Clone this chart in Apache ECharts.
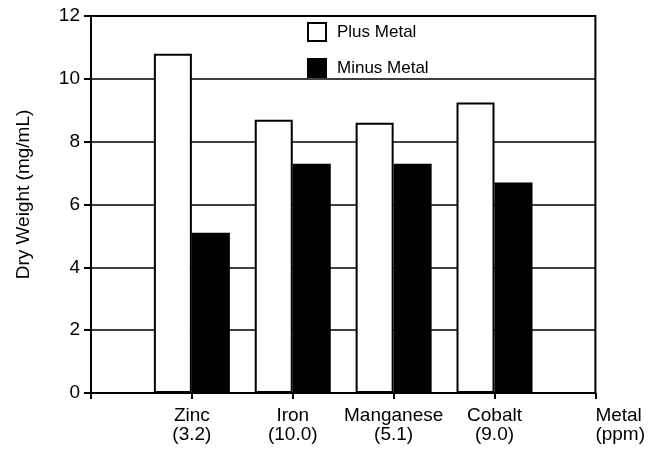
<!DOCTYPE html>
<html>
<head>
<meta charset="utf-8">
<script src="https://cdn.jsdelivr.net/npm/echarts@6/dist/echarts.min.js"></script>
<style>
  html, body { margin: 0; padding: 0; background: #fff; }
  #chart { width: 648px; height: 454px; }
</style>
</head>
<body>
<div id="chart"></div>
<script>
// Metal categories (with concentration in ppm); blank slots pad the axis ends
const categories = ['', 'Zinc\n(3.2)', 'Iron\n(10.0)', 'Manganese\n(5.1)', 'Cobalt\n(9.0)', ''];
// Dry weight (mg/mL)
const plusMetal  = [null, 10.8, 8.7, 8.6, 9.25, null];
const minusMetal = [null, 5.1, 7.3, 7.3, 6.7, null];
const yTicks = { min: 0, max: 12, interval: 2 };

const font = 'Liberation Sans, Arial, Helvetica, sans-serif';
const chart = echarts.init(document.getElementById('chart'), null, { renderer: 'canvas' });

chart.setOption({
  backgroundColor: '#fff',
  animation: false,
  textStyle: { fontFamily: font, color: '#000' },
  grid: {
    left: 91, right: 51, top: 16, bottom: 61,
    show: true, borderColor: '#000', borderWidth: 2, backgroundColor: 'transparent'
  },
  legend: {
    orient: 'vertical',
    left: 302, top: 17,
    itemWidth: 18, itemHeight: 18, itemGap: 16,
    icon: 'rect',
    textStyle: { fontFamily: font, fontSize: 17, color: '#000', padding: [0, 0, 0, 6] },
    data: ['Plus Metal', 'Minus Metal']
  },
  xAxis: {
    type: 'category',
    data: categories,
    boundaryGap: false,
    name: 'Metal\n(ppm)',
    nameLocation: 'end',
    nameGap: 0,
    nameTextStyle: {
      fontFamily: font, fontSize: 19, color: '#000', lineHeight: 19,
      align: 'left', verticalAlign: 'top', padding: [13, 0, 0, 0]
    },
    axisLine: { lineStyle: { color: '#000', width: 2 } },
    axisTick: { show: true, length: 6, lineStyle: { color: '#000', width: 2 } },
    axisLabel: {
      interval: 0, margin: 13, fontFamily: font, fontSize: 19, lineHeight: 19, color: '#000'
    },
    splitLine: { show: false }
  },
  yAxis: {
    type: 'value',
    min: yTicks.min, max: yTicks.max, interval: yTicks.interval,
    name: 'Dry Weight (mg/mL)',
    nameLocation: 'middle',
    nameGap: 58,
    nameTextStyle: { fontFamily: font, fontSize: 19, color: '#000', padding: [0, 0, 0, 20] },
    axisLine: { show: true, lineStyle: { color: '#000', width: 2 } },
    axisTick: { show: true, length: 7, lineStyle: { color: '#000', width: 2 } },
    axisLabel: { margin: 11, fontFamily: font, fontSize: 19, color: '#000' },
    splitLine: { show: true, lineStyle: { color: '#000', width: 1.5 } }
  },
  series: [
    {
      name: 'Plus Metal',
      type: 'bar',
      data: plusMetal,
      barWidth: 38,
      barGap: '0%',
      itemStyle: { color: '#fff', borderColor: '#000', borderWidth: 2 }
    },
    {
      name: 'Minus Metal',
      type: 'bar',
      data: minusMetal,
      barWidth: 38,
      itemStyle: { color: '#000', borderColor: '#000', borderWidth: 2 }
    }
  ]
});
</script>
</body>
</html>
